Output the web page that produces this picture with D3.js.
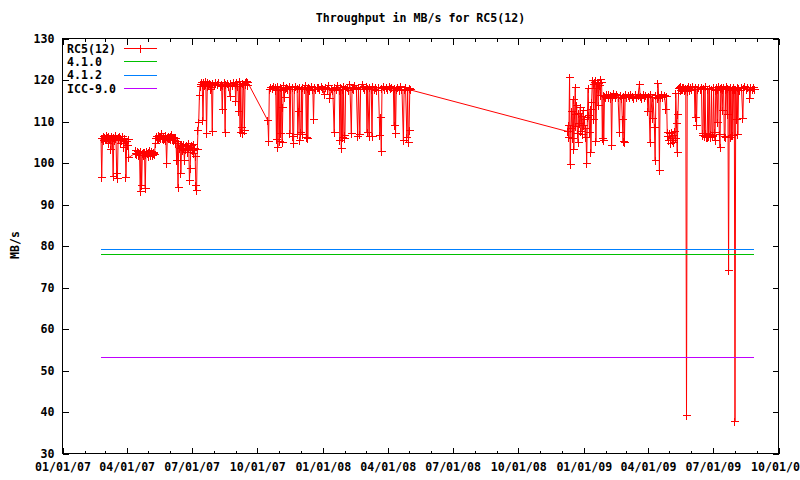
<!DOCTYPE html>
<html><head><meta charset="utf-8">
<script src="https://cdn.jsdelivr.net/npm/d3@7"></script>
<style>
body{margin:0;background:#fff}
svg text{font-family:"DejaVu Sans Mono",monospace;font-size:11.6px;font-weight:bold;fill:#000}
</style></head><body><svg id="c" width="800" height="480"></svg>
<script>
const chartTitle = "Throughput in MB/s for RC5(12)";
const yLabel = "MB/s";
const seriesNames = ["RC5(12)", "4.1.0", "4.1.2", "ICC-9.0"];
const seriesColors = ["#ff0000", "#00c000", "#0080ff", "#c000ff"];
const yTicks = [30, 40, 50, 60, 70, 80, 90, 100, 110, 120, 130];
const xTickDates = ["2007-01-01","2007-04-01","2007-07-01","2007-10-01","2008-01-01","2008-04-01","2008-07-01","2008-10-01","2009-01-01","2009-04-01","2009-07-01","2009-10-01"];
const xDomain = ["2007-01-01", "2009-10-01"];
const refValues = [77.95, 79.15, 53.05]; // 4.1.0, 4.1.2, ICC-9.0
const refSpan = ["2007-02-24", "2009-08-27"];

const rc5_2007 = [
["02-24",106.0],["02-25",96.4],["02-26",105.8],["02-27",106.3],["02-28",105.5],["03-01",106.2],["03-02",105.9],["03-03",106.6],["03-04",105.7],["03-05",106.1],["03-06",104.8],["03-07",106.4],["03-08",105.6],["03-09",106.0],["03-10",103.2],["03-11",106.5],["03-12",105.8],["03-13",96.7],["03-14",106.2],["03-15",105.4],["03-16",106.7],["03-17",105.9],["03-18",97.5],["03-19",96.3],["03-20",106.1],["03-21",105.6],["03-22",106.3],["03-23",104.6],["03-24",106.0],["03-25",105.5],["03-26",106.4],["03-27",105.2],["03-28",103.8],["03-29",105.9],["03-30",105.3],["03-31",96.5],["04-01",105.3],["04-02",104.2],["04-03",105.6],["04-04",101.3],
["04-13",102.4],["04-14",102.9],["04-15",102.1],["04-16",102.7],["04-17",101.9],["04-18",102.6],["04-19",102.2],["04-20",93.1],["04-21",102.8],["04-22",94.5],["04-23",102.3],["04-24",101.8],["04-25",102.6],["04-26",102.5],["04-27",93.9],["04-28",102.0],["04-29",102.8],["04-30",102.3],["05-01",101.6],["05-02",102.5],["05-03",102.9],["05-04",101.9],["05-05",102.4],["05-06",102.7],["05-07",101.7],["05-08",102.3],["05-09",102.6],["05-10",102.0],
["05-11",104.6],["05-12",105.9],["05-13",106.4],["05-14",106.0],["05-15",105.6],["05-16",106.7],["05-17",106.2],["05-18",105.8],["05-19",106.5],["05-20",107.1],["05-21",106.0],["05-22",105.7],["05-23",106.3],["05-24",105.9],["05-25",106.6],["05-26",105.5],["05-27",100.0],["05-28",106.1],["05-29",105.8],["05-30",106.4],["05-31",106.0],["06-01",105.6],["06-02",106.3],["06-03",106.8],["06-04",105.9],["06-05",106.2],["06-06",105.4],["06-07",106.0],["06-08",104.6],["06-09",105.8],["06-10",100.7],["06-11",105.2],["06-12",94.2],["06-13",104.8],["06-14",103.6],["06-15",104.1],["06-16",97.5],["06-17",104.2],["06-18",102.9],["06-19",104.5],["06-20",103.4],["06-21",100.6],["06-22",104.0],["06-23",103.2],["06-24",104.3],["06-25",102.6],["06-26",103.8],["06-27",104.6],["06-28",95.8],["06-29",98.7],["06-30",103.5],["07-01",104.1],["07-02",103.0],["07-03",104.4],["07-04",102.3],["07-05",103.6],["07-06",101.5],["07-07",94.6],["07-08",93.4],["07-09",103.2],["07-10",107.8],["07-11",109.8],["07-12",116.3],
["07-13",119.0],["07-14",118.4],["07-15",119.5],["07-16",118.8],["07-17",110.2],["07-18",119.3],["07-19",118.6],["07-20",119.6],["07-21",118.9],["07-22",107.1],["07-23",118.5],["07-24",119.4],["07-25",118.7],["07-26",119.2],["07-27",117.6],["07-28",119.0],["07-29",118.3],["07-30",107.6],["07-31",119.1],["08-02",118.6],["08-04",119.5],["08-06",118.8],["08-08",119.3],["08-10",118.5],["08-12",119.0],["08-13",112.9],["08-14",118.7],["08-16",119.4],["08-17",107.4],["08-18",118.9],["08-20",119.2],["08-22",118.4],["08-24",116.0],["08-25",119.1],["08-27",118.6],["08-29",119.5],["08-31",118.9],["09-01",114.8],["09-02",119.3],["09-04",118.5],["09-05",112.4],["09-06",119.6],["09-07",107.4],["09-08",118.8],["09-09",108.5],["09-10",107.1],["09-11",119.2],["09-12",118.7],["09-13",107.8],["09-14",119.4],["09-15",118.9],["09-16",119.7],["09-17",118.6],["09-18",119.3],
["10-16",110.2],["10-17",105.2],["10-18",117.6],["10-20",118.3],["10-22",117.9],["10-24",118.5],["10-26",117.4],["10-27",118.1],["10-28",105.6],["10-29",118.4],["10-30",103.7],["10-31",117.8],["11-01",105.2],["11-02",118.2],["11-03",107.1],["11-04",117.5],["11-05",104.9],["11-06",113.4],["11-07",118.6],["11-08",115.8],["11-09",117.9],["11-11",118.3],["11-13",117.6],["11-15",118.5],["11-16",107.1],["11-17",117.8],["11-19",118.2],["11-20",106.3],["11-21",104.7],["11-22",117.7],["11-24",118.4],["11-26",117.9],["11-27",106.8],["11-28",112.3],["11-29",118.1],["11-30",105.4],["12-01",107.3],["12-02",117.6],["12-03",106.9],["12-04",118.3],["12-06",117.7],["12-08",118.6],["12-09",106.2],["12-10",117.9],["12-11",106.0],["12-12",118.2],["12-14",117.5],["12-16",118.4],["12-18",117.8],["12-19",110.5],["12-20",118.1],["12-22",117.6],["12-24",118.3],["12-26",118.2],["12-28",117.7],["12-30",118.5]
];

const rc5_2008 = [
["01-01",117.9],["01-03",116.4],["01-05",118.3],["01-07",117.6],["01-09",118.6],["01-11",115.5],["01-13",118.0],["01-15",117.5],["01-17",107.3],["01-18",118.2],["01-20",117.8],["01-22",118.7],["01-24",117.4],["01-25",105.4],["01-26",118.1],["01-27",103.5],["01-28",117.6],["01-29",106.2],["01-30",118.4],["01-31",106.7],["02-01",105.9],["02-02",117.9],["02-04",118.3],["02-06",117.5],["02-08",118.8],["02-10",107.1],["02-11",118.0],["02-13",117.6],["02-15",118.6],["02-17",117.9],["02-19",106.3],["02-20",118.2],["02-22",106.8],["02-23",117.7],["02-25",118.9],["02-27",118.3],["02-29",117.8],["03-02",118.5],["03-03",107.3],["03-04",117.9],["03-06",106.4],["03-07",118.2],["03-09",117.6],["03-10",106.5],["03-11",118.4],["03-13",117.8],["03-15",118.3],["03-17",117.5],["03-19",118.1],["03-21",106.6],["03-22",111.0],["03-23",102.8],["03-24",117.9],["03-26",118.4],["03-28",117.7],["03-30",118.2],["04-01",117.6],["04-03",118.5],["04-05",117.9],["04-07",118.3],["04-09",117.4],["04-10",109.0],["04-11",118.0],["04-12",107.1],["04-13",117.7],["04-15",118.2],["04-17",117.5],["04-19",118.4],["04-21",117.8],["04-23",105.4],["04-24",117.6],["04-26",118.1],["04-28",106.1],["04-29",117.5],["04-30",104.9],["05-01",107.8],["05-02",118.0],["05-03",117.6],
["12-09",107.6],["12-10",109.0],["12-11",106.1],["12-12",120.7],["12-13",99.6],["12-14",108.3],["12-15",112.5],["12-16",106.0],["12-17",115.3],["12-18",103.3],["12-19",111.6],["12-20",118.3],["12-21",108.9],["12-22",113.8],["12-23",107.2],["12-24",105.0],["12-25",112.0],["12-26",109.5],["12-27",113.4],["12-28",107.6],["12-29",111.2],["12-30",106.8],["12-31",112.7]
];

const rc5_2009 = [
["01-01",109.1],["01-02",110.6],["01-03",106.1],["01-04",108.4],["01-05",99.9],["01-06",110.9],["01-07",118.0],["01-08",111.5],["01-09",107.3],["01-10",113.0],["01-11",102.5],["01-12",114.6],["01-13",119.9],["01-14",118.8],["01-15",110.4],["01-16",119.5],["01-17",119.9],["01-18",105.2],["01-19",118.0],["01-20",119.5],["01-21",113.9],["01-22",119.1],["01-23",118.6],["01-24",116.3],["01-25",120.1],["01-26",119.4],["01-27",105.9],["01-28",116.3],["01-29",105.4],["01-30",116.0],
["02-01",115.8],["02-02",116.5],["02-04",115.9],["02-05",116.6],["02-07",115.6],["02-08",116.3],["02-09",104.3],["02-10",116.1],["02-12",116.8],["02-14",115.7],["02-16",116.4],["02-18",115.9],["02-20",107.3],["02-21",116.2],["02-23",115.6],["02-24",110.4],["02-25",105.2],["02-26",116.0],["02-27",105.0],["02-28",116.5],["03-02",115.8],["03-04",116.3],["03-06",115.7],["03-08",116.6],["03-10",116.0],["03-12",115.5],["03-14",116.4],["03-16",115.9],["03-18",116.2],["03-20",119.0],["03-21",116.0],["03-23",115.6],["03-25",116.5],["03-27",115.8],["03-29",116.3],["03-31",115.7],["04-01",112.5],["04-02",116.1],["04-04",105.0],["04-05",116.4],["04-07",110.7],["04-08",115.9],["04-10",108.6],["04-11",100.6],["04-12",116.2],["04-14",115.6],["04-15",119.2],["04-16",116.0],["04-17",98.2],["04-18",115.8],["04-20",116.5],["04-22",115.7],["04-24",116.2],["04-26",113.0],["04-27",116.0],["04-28",107.3],
["04-29",106.5],["04-30",105.4],["05-01",107.1],["05-02",106.0],["05-03",104.8],["05-04",107.4],["05-05",105.4],["05-06",106.6],["05-07",105.0],["05-08",107.7],["05-09",105.9],["05-10",116.7],["05-11",109.5],["05-12",102.5],["05-13",111.8],["05-14",117.9],
["05-15",118.2],["05-16",117.5],["05-17",118.4],["05-18",117.8],["05-19",118.3],["05-20",117.6],["05-21",118.1],["05-22",117.4],["05-23",118.0],["05-24",117.6],["05-25",39.2],["05-26",117.3],["05-27",117.9],["05-28",118.4],["05-29",117.5],["05-30",118.2],["06-01",117.7],["06-03",118.5],["06-05",117.8],["06-06",111.0],["06-07",118.1],["06-08",109.0],["06-09",117.6],["06-11",118.3],["06-13",117.7],["06-15",118.2],["06-16",107.2],["06-17",106.6],["06-18",117.9],["06-19",106.4],["06-20",118.4],["06-21",107.0],["06-22",106.2],["06-23",106.1],["06-24",117.6],["06-25",106.5],["06-26",118.0],["06-27",106.1],["06-28",106.8],["06-29",117.8],["06-30",106.3],["07-01",106.6],["07-02",118.2],["07-03",107.4],["07-04",105.4],["07-05",117.5],["07-06",118.1],["07-07",109.8],["07-08",117.7],["07-09",118.4],["07-10",106.9],["07-11",103.7],["07-12",117.9],["07-13",118.3],["07-14",112.6],["07-15",117.6],["07-16",118.2],["07-17",106.3],["07-18",106.1],["07-19",117.8],["07-20",118.4],["07-21",111.7],["07-22",117.9],["07-23",74.1],["07-24",117.5],["07-25",106.1],["07-26",118.2],["07-27",106.7],["07-28",117.7],["07-29",106.6],["07-30",118.3],["07-31",117.8],["08-01",37.8],["08-02",117.6],["08-03",110.5],["08-04",118.2],["08-05",106.8],["08-06",118.0],["08-08",117.4],["08-10",118.3],["08-12",110.8],["08-13",117.9],["08-15",118.4],["08-17",117.6],["08-19",118.1],["08-21",117.5],["08-22",115.5],["08-23",118.2],["08-25",117.7],["08-27",118.3],["08-28",117.6]
];

const parse = d3.utcParse("%Y-%m-%d");
const rc5 = [[2007, rc5_2007], [2008, rc5_2008], [2009, rc5_2009]]
  .flatMap(([yr, arr]) => arr.map(([md, v]) => ({ date: parse(yr + "-" + md), value: v })));

const svg = d3.select("#c");
const L = 62.5, R = 778.5, T = 38.5, B = 453.5;
const x = d3.scaleUtc().domain(xDomain.map(parse)).range([L, R]);
const y = d3.scaleLinear().domain([30, 130]).range([B, T]);
const snap = v => Math.round(v - 0.5) + 0.5;

// Axes (ticks inside, mirrored)
const xTicks = xTickDates.map(parse);
const minorTicks = d3.utcMonth.range(parse(xDomain[0]), parse(xDomain[1]))
  .filter(d => d.getUTCMonth() % 3 !== 0);
const fmt = d3.utcFormat("%m/%d/%y");

const gb = svg.append("g").attr("transform", `translate(0,${B})`)
  .call(d3.axisBottom(x).tickValues(xTicks).tickFormat(fmt).tickSize(-6).tickPadding(9));
const gt = svg.append("g").attr("transform", `translate(0,${T})`)
  .call(d3.axisTop(x).tickValues(xTicks).tickFormat("").tickSize(-6));
const gbm = svg.append("g").attr("transform", `translate(0,${B})`)
  .call(d3.axisBottom(x).tickValues(minorTicks).tickFormat("").tickSize(-3));
const gtm = svg.append("g").attr("transform", `translate(0,${T})`)
  .call(d3.axisTop(x).tickValues(minorTicks).tickFormat("").tickSize(-3));
const gl = svg.append("g").attr("transform", `translate(${L},0)`)
  .call(d3.axisLeft(y).tickValues(yTicks).tickSize(-6).tickPadding(8));
const gr = svg.append("g").attr("transform", `translate(${R},0)`)
  .call(d3.axisRight(y).tickValues(yTicks).tickFormat("").tickSize(-6));
[gb, gt, gbm, gtm, gl, gr].forEach(g => {
  g.select(".domain").remove();
  g.selectAll("line").attr("stroke", "#000").attr("shape-rendering", "crispEdges");
});
gb.selectAll("text").attr("dy", "0.71em");

svg.append("rect").attr("x", L).attr("y", T).attr("width", R - L).attr("height", B - T)
  .attr("fill", "none").attr("stroke", "#000").attr("shape-rendering", "crispEdges");

// Title and y label
svg.append("text").attr("x", (L + R) / 2).attr("y", 22).attr("text-anchor", "middle").text(chartTitle);
svg.append("text").attr("transform", "translate(19,245) rotate(-90)").attr("text-anchor", "middle").text(yLabel);

// RC5 series
const line = d3.line().x(d => x(d.date)).y(d => y(d.value));
svg.append("path").datum(rc5).attr("d", line).attr("fill", "none")
  .attr("stroke", seriesColors[0]).attr("stroke-width", 1);
const cross = (cx, cy, s) => `M${cx - s},${cy}H${cx + s}M${cx},${cy - s}V${cy + s}`;
svg.append("path")
  .attr("d", rc5.map(d => cross(snap(x(d.date)), snap(y(d.value)), 4)).join(""))
  .attr("fill", "none").attr("stroke", seriesColors[0]).attr("shape-rendering", "crispEdges");

// Reference constant lines
const span = refSpan.map(parse);
refValues.forEach((v, i) => {
  svg.append("path").datum(span.map(d => ({ date: d, value: v })))
    .attr("d", line).attr("fill", "none").attr("stroke", seriesColors[i + 1])
    .attr("shape-rendering", "crispEdges");
});

// Legend
const legend = svg.append("g");
seriesNames.forEach((name, i) => {
  const ry = 48.5 + i * 13.4;
  legend.append("text").attr("x", 67).attr("y", ry + 4).text(name);
  legend.append("line").attr("x1", 124).attr("x2", 157).attr("y1", snap(ry)).attr("y2", snap(ry))
    .attr("stroke", seriesColors[i]).attr("shape-rendering", "crispEdges");
  if (i === 0) legend.append("path").attr("d", cross(140.5, snap(ry), 4))
    .attr("stroke", seriesColors[0]).attr("shape-rendering", "crispEdges");
});
</script></body></html>
